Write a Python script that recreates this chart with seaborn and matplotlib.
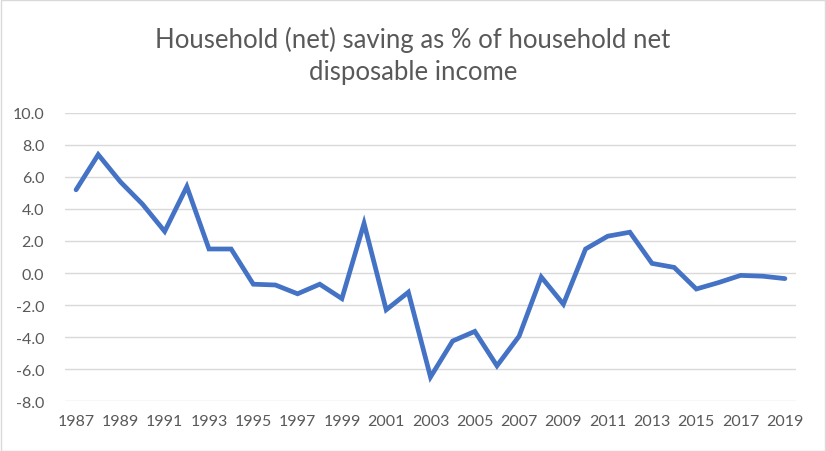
import numpy as np
import pandas as pd
import seaborn as sns
import matplotlib.pyplot as plt
from matplotlib.patches import Rectangle

# data
years = list(range(1987, 2020))
saving = [5.2, 7.4, 5.7, 4.3, 2.6, 5.4, 1.5, 1.5, -0.7, -0.75, -1.3,
          -0.7, -1.6, 3.1, -2.3, -1.2, -6.5, -4.25, -3.65, -5.8, -3.95,
          -0.25, -1.95, 1.5, 2.3, 2.55, 0.6, 0.35, -1.0, -0.6, -0.15,
          -0.2, -0.35]
y_ticks = [-8, -6, -4, -2, 0, 2, 4, 6, 8, 10]
title = "Household (net) saving as % of household net\ndisposable income"

df = pd.DataFrame({"year": years, "saving": saving})

sns.set_theme(style="white")
plt.rcParams["font.family"] = ["Lato", "DejaVu Sans"]
grey = "#595959"

fig = plt.figure(figsize=(8.26, 4.52), dpi=100)
ax = fig.add_axes([65 / 826, 1 - 402 / 452, 731 / 826, 288 / 452])

sns.lineplot(data=df, x="year", y="saving", ax=ax, color="#4472C4",
             linewidth=3.4, solid_joinstyle="miter")

ax.set_xlim(1986.5, 2019.5)
ax.set_ylim(-8, 10)
ax.set_yticks(y_ticks)
ax.set_yticklabels([f"{v:.1f}" for v in y_ticks])
ax.set_xticks(years[::2])
ax.set_xticklabels([str(y) for y in years[::2]])
ax.grid(axis="y", color="#d9d9d9", linewidth=1)
ax.set_axisbelow(True)
for s in ax.spines.values():
    s.set_visible(False)
ax.tick_params(axis="both", length=0, labelsize=11.5, colors=grey)
ax.tick_params(axis="y", pad=15)
ax.tick_params(axis="x", pad=9)
ax.set_xlabel("")
ax.set_ylabel("")

fig.text(0.5, 1 - 56 / 452, title, ha="center", va="center",
         fontsize=18.5, color=grey, linespacing=1.35)

fig.patches.append(Rectangle((0.5 / 826, 0.5 / 452), 1 - 1.5 / 826, 1 - 1.5 / 452,
                             transform=fig.transFigure, fill=False,
                             edgecolor="#d9d9d9", linewidth=1))

fig.savefig("out.png", dpi=100)
